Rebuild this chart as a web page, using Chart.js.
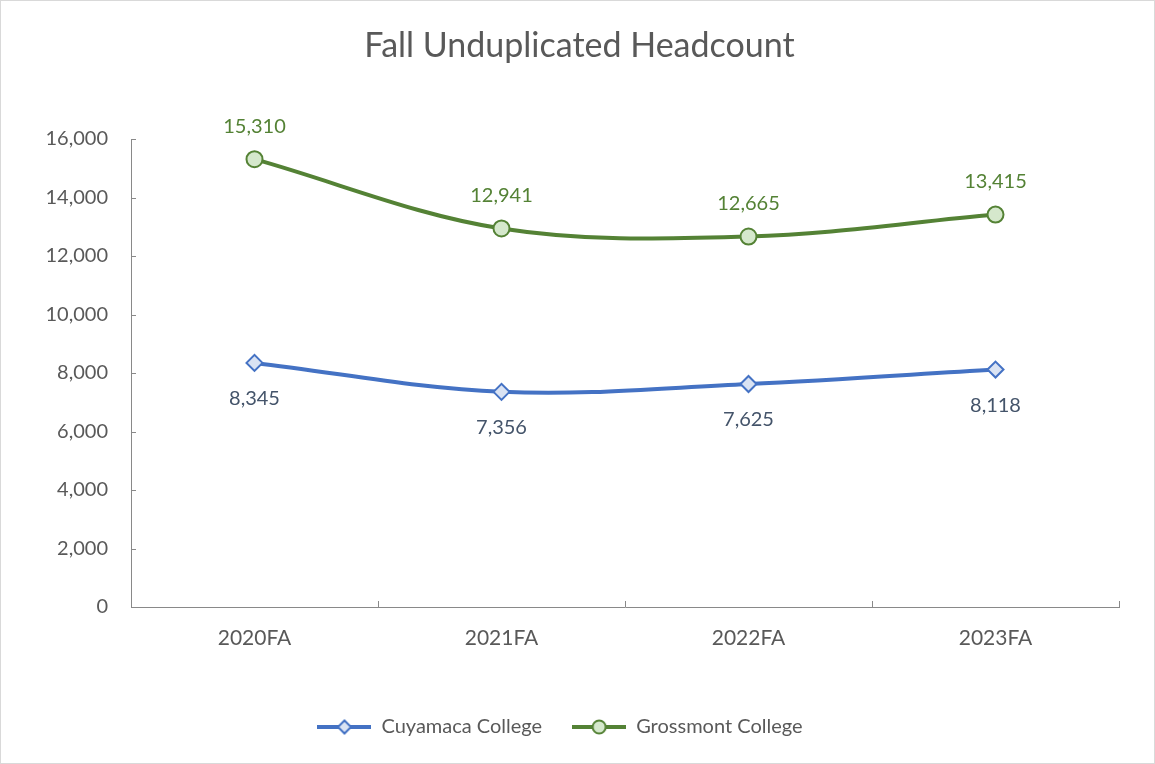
<!DOCTYPE html>
<html>
<head>
<meta charset="utf-8">
<script src="https://cdn.jsdelivr.net/npm/chart.js@4.4.1/dist/chart.umd.min.js"></script>
<style>
  html, body { margin: 0; padding: 0; background: #fff; }
  #wrap { width: 1153px; height: 762px; border: 1px solid #D9D9D9; position: relative; background: #fff; }
  canvas { display: block; }
</style>
</head>
<body>
<div id="wrap"><canvas id="c" width="1153" height="762"></canvas></div>
<script>
const chartTitle = 'Fall Unduplicated Headcount';
const categories = ['2020FA', '2021FA', '2022FA', '2023FA'];
const cuyamaca = [8345, 7356, 7625, 8118];
const grossmont = [15310, 12941, 12665, 13415];
const yTicks = [0, 2000, 4000, 6000, 8000, 10000, 12000, 14000, 16000];
const seriesNames = ['Cuyamaca College', 'Grossmont College'];

const FONT = 'Lato, "Open Sans", sans-serif';
const BLUE = '#4472C4', BLUE_FILL = '#DAE3F3', BLUE_LABEL = '#44546A';
const GREEN = '#548235', GREEN_FILL = '#D5E8CC', GREEN_LABEL = '#548235';
const AXIS = '#898989', TEXT = '#595959';

function legendIcon(color, fill, shape) {
  const c = document.createElement('canvas');
  c.width = 54; c.height = 20;
  const g = c.getContext('2d');
  g.strokeStyle = color; g.lineWidth = 4; g.lineCap = 'butt';
  g.beginPath(); g.moveTo(0, 10); g.lineTo(54, 10); g.stroke();
  g.fillStyle = fill; g.lineWidth = 2;
  g.beginPath();
  if (shape === 'diamond') {
    g.moveTo(27, 3.5); g.lineTo(33.5, 10); g.lineTo(27, 16.5); g.lineTo(20.5, 10); g.closePath();
  } else {
    g.arc(27, 10, 6.5, 0, Math.PI * 2);
  }
  g.fill(); g.stroke();
  return c;
}
const icons = [legendIcon(BLUE, BLUE_FILL, 'diamond'), legendIcon(GREEN, GREEN_FILL, 'circle')];

const titlePlugin = {
  id: 'centeredTitle',
  afterDraw(chart) {
    const ctx = chart.ctx;
    ctx.save();
    ctx.font = '34px ' + FONT;
    ctx.fillStyle = TEXT;
    ctx.textAlign = 'center';
    ctx.textBaseline = 'middle';
    ctx.fillText(chartTitle, chart.width / 2 + 2, 45);
    ctx.restore();
  }
};

const axisTicksPlugin = {
  id: 'axisTicks',
  afterDatasetsDraw(chart) {
    const ctx = chart.ctx, x = chart.scales.x, y = chart.scales.y;
    ctx.save();
    ctx.strokeStyle = AXIS; ctx.lineWidth = 1;
    ctx.beginPath();
    y.ticks.forEach(t => {
      const py = Math.round(y.getPixelForValue(t.value)) + 0.5;
      ctx.moveTo(x.left, py); ctx.lineTo(x.left + 5, py);
    });
    for (let i = 0; i <= categories.length; i++) {
      const px = Math.round(x.getPixelForValue(i - 0.5)) + 0.5;
      ctx.moveTo(px, y.bottom); ctx.lineTo(px, y.bottom - 6);
    }
    ctx.stroke();
    ctx.restore();
  }
};

const dataLabelPlugin = {
  id: 'dataLabels',
  afterDatasetsDraw(chart) {
    const ctx = chart.ctx;
    ctx.save();
    ctx.font = '20px ' + FONT;
    ctx.textAlign = 'center';
    ctx.textBaseline = 'middle';
    chart.data.datasets.forEach((ds, di) => {
      const meta = chart.getDatasetMeta(di);
      meta.data.forEach((pt, i) => {
        const v = ds.data[i];
        const txt = v.toLocaleString('en-US');
        if (di === 1) { ctx.fillStyle = GREEN_LABEL; ctx.fillText(txt, pt.x, pt.y - 33); }
        else { ctx.fillStyle = BLUE_LABEL; ctx.fillText(txt, pt.x, pt.y + 36); }
      });
    });
    ctx.restore();
  }
};

new Chart(document.getElementById('c'), {
  type: 'line',
  data: {
    labels: categories,
    datasets: [
      {
        label: seriesNames[0], data: cuyamaca,
        borderColor: BLUE, backgroundColor: BLUE_FILL, borderWidth: 4,
        pointStyle: 'rectRot', pointRadius: 8, pointBorderWidth: 2,
        pointBackgroundColor: BLUE_FILL, pointBorderColor: BLUE,
        tension: 0.35
      },
      {
        label: seriesNames[1], data: grossmont,
        borderColor: GREEN, backgroundColor: GREEN_FILL, borderWidth: 4,
        pointStyle: 'circle', pointRadius: 8, pointBorderWidth: 2,
        pointBackgroundColor: GREEN_FILL, pointBorderColor: GREEN,
        tension: 0.35
      }
    ]
  },
  options: {
    responsive: false,
    animation: false,
    layout: { padding: { left: 0, right: 35, top: 138, bottom: 16 } },
    plugins: {
      title: { display: false },
      legend: {
        position: 'bottom',
        labels: {
          usePointStyle: true, pointStyleWidth: 54,
          color: TEXT, font: { family: FONT, size: 20 },
          padding: 30,
          generateLabels(chart) {
            return chart.data.datasets.map((ds, i) => ({
              text: ds.label, pointStyle: icons[i], fillStyle: 'transparent',
              strokeStyle: 'transparent', lineWidth: 0, fontColor: TEXT, datasetIndex: i, hidden: false
            }));
          }
        }
      },
      tooltip: { enabled: false }
    },
    scales: {
      x: {
        offset: true,
        grid: { display: false },
        border: { display: true, color: AXIS, width: 1 },
        ticks: { color: TEXT, font: { family: FONT, size: 21 }, padding: 11 },
        afterFit(s) { s.height = 80; }
      },
      y: {
        min: 0, max: 16000,
        afterBuildTicks(s) { s.ticks = yTicks.map(v => ({ value: v })); },
        grid: { display: false },
        border: { display: true, color: AXIS, width: 1 },
        ticks: {
          color: TEXT, font: { family: FONT, size: 20 }, padding: 15,
          callback: v => Number(v).toLocaleString('en-US')
        },
        afterFit(s) { s.width = 130; }
      }
    }
  },
  plugins: [axisTicksPlugin, dataLabelPlugin, titlePlugin]
});
</script>
</body>
</html>
